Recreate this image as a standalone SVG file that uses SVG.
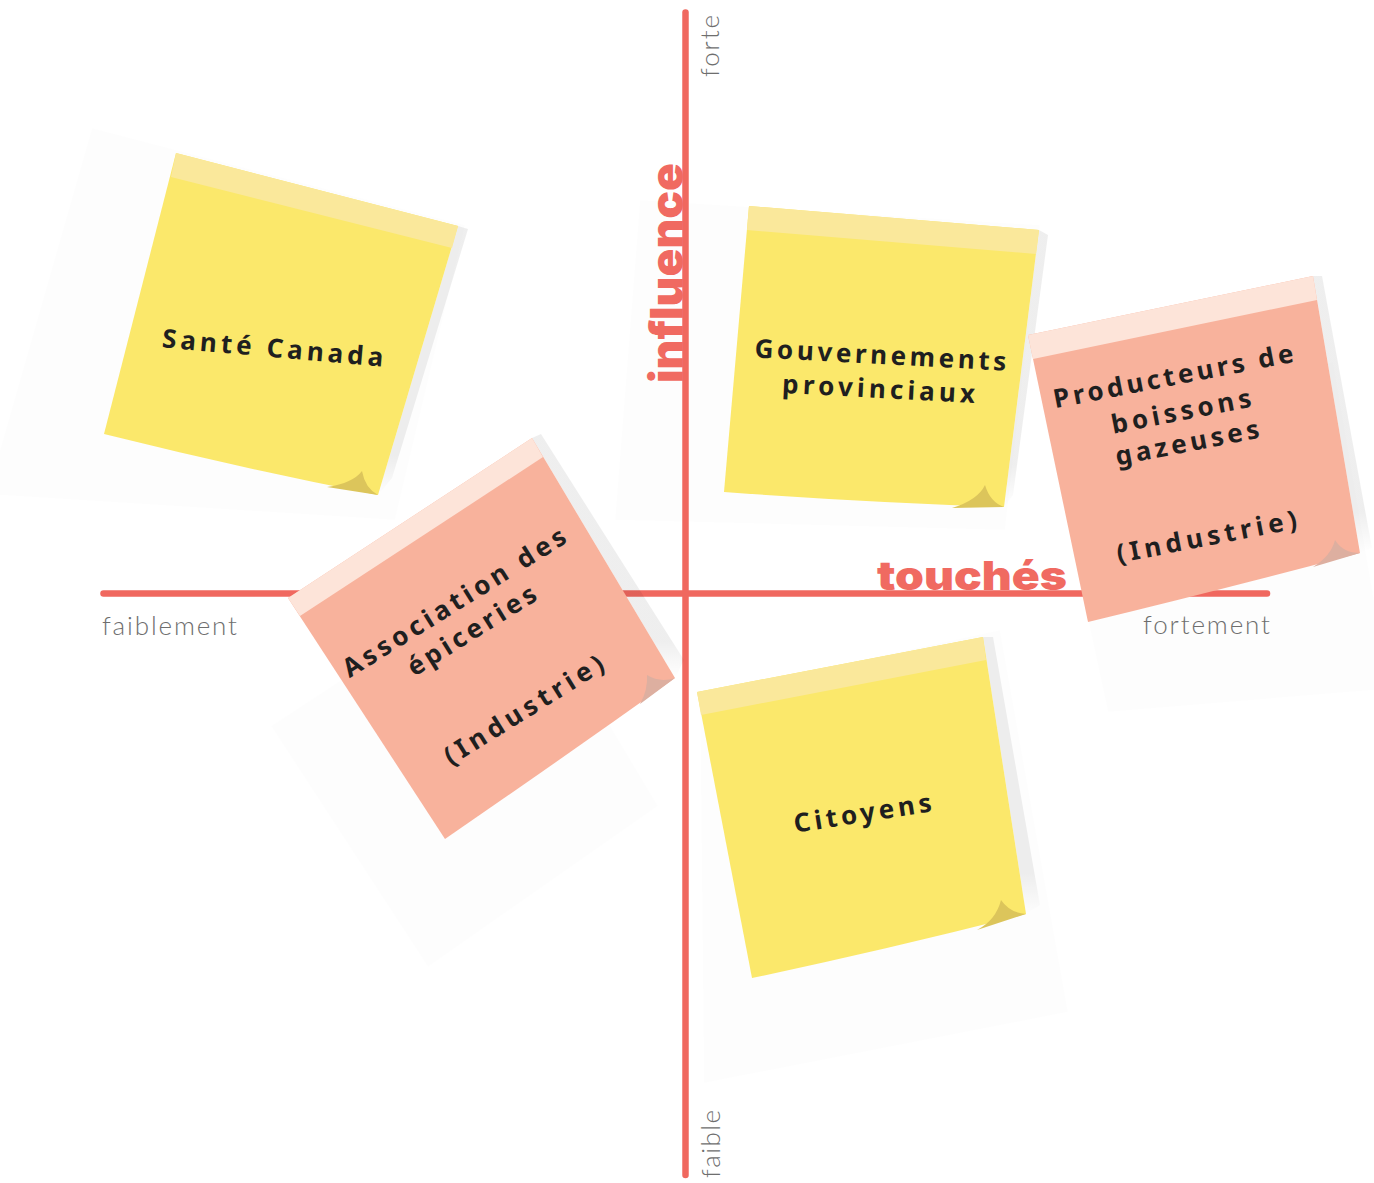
<svg xmlns="http://www.w3.org/2000/svg" width="1374" height="1183" viewBox="0 0 1374 1183">
<defs>
<linearGradient id="sg" x1="0" y1="0" x2="0" y2="1">
<stop offset="0" stop-color="#000" stop-opacity="0.065"/>
<stop offset="0.85" stop-color="#000" stop-opacity="0.065"/>
<stop offset="1" stop-color="#000" stop-opacity="0"/>
</linearGradient>
<style>
.axis{stroke:#F0685F;stroke-width:6.5;stroke-linecap:round;fill:none}
.lbl{font-family:Lato,'Noto Sans','Liberation Sans',sans-serif;font-weight:300;font-size:26px;fill:#6e6e6e}
.big{font-family:Inter,'Open Sans','Liberation Sans',sans-serif;font-weight:900;fill:#F06A61}
.hand{font-family:'Noto Sans','DejaVu Sans',sans-serif;font-weight:700;font-size:26px;fill:#1f1f1f;text-anchor:middle}
.yel{fill:#FBE86B}.yel-tape{fill:#FAE89B}.yel-curl{fill:#DCC55B}
.sal{fill:#F8B29C}.sal-tape{fill:#FDE4D9}.sal-curl{fill:#DDAFA0}
.strip{fill:url(#sg)}
.soft{fill:#000;fill-opacity:0.008}
</style>
</defs>
<rect width="1374" height="1183" fill="#fff"/>

<g id="soft-shadows">
<path class="soft" d="M92,128 L465,225 L395,520 L0,495 L0,450 Z"/>
<path class="soft" d="M640,200 L1040,225 L1005,530 L615,520 Z"/>
<path class="soft" d="M1045,420 L1333,362 L1374,600 L1374,690 L1108,712 Z"/>
<path class="soft" d="M271,726 L515,566 L658,806 L428,967 Z"/>
<path class="soft" d="M700,695 L1000,630 L1068,1012 L704,1083 Z"/>
</g>

<g id="axes">
<line class="axis" x1="685.5" y1="12.5" x2="685.5" y2="1175"/>
<line class="axis" x1="103.5" y1="593.5" x2="1267" y2="593.5"/>
<text class="big" font-size="46" transform="translate(683,383) rotate(-90)" textLength="220" lengthAdjust="spacingAndGlyphs">influence</text>
<text class="big" font-size="40" x="877" y="590" textLength="190" lengthAdjust="spacingAndGlyphs">touchés</text>
<text class="lbl" x="102" y="635" textLength="135">faiblement</text>
<text class="lbl" x="1143" y="634" textLength="127">fortement</text>
<text class="lbl" transform="translate(719,77) rotate(-90)" textLength="62">forte</text>
<text class="lbl" transform="translate(720,1178) rotate(-90)" textLength="68">faible</text>
</g>

<g id="note-sante-canada">
<path class="strip" d="M458,226 L468,229 L392,478 L378,495 Z"/>
<path class="yel" d="M176,153 L458,226 L378,495 Q240,468 104,434 Z"/>
<path class="yel-tape" d="M176,153 L458,226 L452,248 L171,177 Z"/>
<path class="yel-curl" d="M327,487 Q353,483 362,471 Q365,488 378,495 Z"/>
<text class="hand" transform="translate(272,357) rotate(5)" textLength="222" lengthAdjust="spacing">Santé Canada</text>
</g>

<g id="note-gouvernements">
<path class="strip" d="M1039,230 L1048,235 L1013,495 L1004,507 Z"/>
<path class="yel" d="M749,206 L1039,230 L1004,507 Q860,502 724,492 Z"/>
<path class="yel-tape" d="M749,206 L1039,230 L1036,254 L747,230 Z"/>
<path class="yel-curl" d="M952,508 Q978,500 985,485 Q990,502 1004,507 Z"/>
<g transform="translate(880,364) rotate(3)">
<text class="hand" x="0" y="0" textLength="252" lengthAdjust="spacing">Gouvernements</text>
<text class="hand" x="0" y="34" textLength="193" lengthAdjust="spacing">provinciaux</text>
</g>
</g>

<g id="note-producteurs">
<path class="strip" d="M1313,276 L1322,276 L1372,548 L1360,553 Z"/>
<path class="sal" d="M1028,335 L1313,276 L1360,553 Q1220,590 1088,622 Z"/>
<path class="sal-tape" d="M1028,335 L1313,276 L1317,300 L1033,359 Z"/>
<path class="sal-curl" d="M1313,567 Q1331,556 1335,540 Q1343,553 1360,553 Z"/>
<g transform="translate(1175,385) rotate(-11)">
<text class="hand" x="0" y="0" textLength="244" lengthAdjust="spacing">Producteurs de</text>
<text class="hand" x="1" y="36" textLength="142" lengthAdjust="spacing">boissons</text>
<text class="hand" x="1" y="68" textLength="146" lengthAdjust="spacing">gazeuses</text>
<text class="hand" x="2" y="164" textLength="183" lengthAdjust="spacing">(Industrie)</text>
</g>
</g>

<g id="note-association">
<path class="strip" d="M532,438 L541,434 L684,660 L675,678 Z"/>
<path class="sal" d="M288,598 L532,438 L675,678 Q560,760 445,839 Z"/>
<path class="sal-tape" d="M288,598 L532,438 L543,457 L300,616 Z"/>
<path class="sal-curl" d="M640,704 Q648,690 647,675 Q660,683 675,678 Z"/>
<g transform="translate(459,610) rotate(-32)">
<text class="hand" x="0" y="0" textLength="258" lengthAdjust="spacing">Association des</text>
<text class="hand" x="0" y="33" textLength="147" lengthAdjust="spacing">épiceries</text>
<text class="hand" x="2" y="128" textLength="183" lengthAdjust="spacing">(Industrie)</text>
</g>
</g>

<g id="note-citoyens">
<path class="strip" d="M983,637 L993,637 L1040,905 L1026,914 Z"/>
<path class="yel" d="M697,692 L983,637 L1026,914 Q885,950 752,978 Z"/>
<path class="yel-tape" d="M697,692 L983,637 L986,660 L701,715 Z"/>
<path class="yel-curl" d="M977,930 Q996,920 1001,900 Q1010,913 1026,914 Z"/>
<text class="hand" transform="translate(864,822) rotate(-9)" textLength="139" lengthAdjust="spacing">Citoyens</text>
</g>
</svg>
